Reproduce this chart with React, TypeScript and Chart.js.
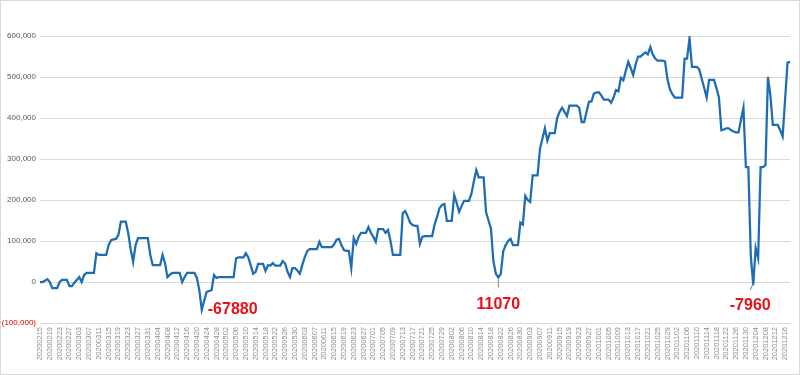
import React, { useEffect, useRef } from "react";
import { Chart, registerables } from "chart.js";

Chart.register(...registerables);

// Category range: daily dates (the source data has no 29 Feb entry)
const START_DATE = "2020-02-15";
const END_DATE = "2020-12-18";
const MISSING_DATES = ["20200229"];

// Cumulative value, in thousands, one per date
const VALUES_K: number[] = [
  0, 0, 3, 7, 0, -15, -15, -15, 0, 5,
  5, 5, -10, -10, -2, 5, 12, 0, 17, 22,
  22, 22, 22, 70, 66, 66, 66, 66, 90, 102,
  104, 105, 115, 147, 147, 147, 119, 80, 49, 90,
  107, 107, 107, 107, 107, 66, 41, 41, 41, 41,
  66, 46, 12, 18, 22, 22, 22, 22, 0, 12,
  22, 22, 22, 22, 10, -20, -67.88, -45, -24, -22,
  -20, 17, 10, 12, 12, 12, 12, 12, 12, 12,
  58, 60, 60, 60, 70, 60, 40, 20, 25, 44,
  44, 44, 27, 41, 40, 46, 40, 40, 40, 51,
  45, 25, 12, 34, 34, 28, 20, 41, 60, 75,
  80, 80, 80, 80, 98, 85, 85, 85, 85, 85,
  92, 103, 105, 90, 78, 76, 76, 34, 107, 93,
  110, 120, 120, 120, 134, 120, 110, 98, 129, 129,
  129, 120, 127, 100, 66, 66, 66, 66, 168, 173,
  160, 145, 139, 137, 137, 93, 110, 112, 112, 112,
  112, 140, 159, 180, 188, 190, 149, 149, 149, 212,
  193, 171, 185, 198, 198, 198, 215, 245, 273, 255,
  255, 255, 170, 150, 130, 50, 20, 11.07, 20, 75,
  90, 100, 105, 90, 90, 90, 145, 140, 210, 200,
  195, 260, 260, 260, 325, 350, 375, 345, 363, 363,
  363, 400, 415, 425, 415, 405, 430, 430, 430, 430,
  425, 390, 390, 415, 440, 440, 460, 462, 463, 455,
  445, 445, 445, 437, 450, 468, 465, 498, 492, 515,
  537, 522, 505, 530, 550, 550, 555, 560, 555, 573,
  555, 545, 540, 540, 540, 538, 495, 470, 458, 450,
  450, 450, 450, 545, 545, 595, 525, 525, 525, 518,
  495, 473, 450, 493, 493, 493, 473, 450, 370, 372,
  375, 375, 370, 367, 365, 365, 395, 425, 280, 280,
  65, -7.96, 83, 58, 280, 280, 285, 500, 455, 383,
  383, 383, 370, 355, 445, 535, 537,
];

// Called-out points: category index and label text
const CALLOUT_INDEX = [66, 187, 291];
const CALLOUT_TEXT = ["-67880", "11070", "-7960"];

// Y axis tick range
const Y_MIN = -100000;
const Y_MAX = 600000;
const Y_STEP = 100000;
const X_LABEL_EVERY = 4;

function buildDates(): string[] {
  const out: string[] = [];
  const d = new Date(START_DATE + "T00:00:00Z");
  const end = new Date(END_DATE + "T00:00:00Z");
  while (d.getTime() <= end.getTime()) {
    const s =
      d.getUTCFullYear().toString() +
      String(d.getUTCMonth() + 1).padStart(2, "0") +
      String(d.getUTCDate()).padStart(2, "0");
    if (!MISSING_DATES.includes(s)) out.push(s);
    d.setUTCDate(d.getUTCDate() + 1);
  }
  return out;
}

const DATES = buildDates();

// styling for callouts (offsets relative to the point)
const CALLOUT_STYLE = [
  { mode: "right", dx: 6, dy: 0 },
  { mode: "below", dx: 0, dy: 19, lineFrom: 2, lineTo: 10 },
  { mode: "below", dx: -3, dy: 12, lineFrom: -2, lineTo: 5 },
];

const calloutPlugin = {
  id: "callouts",
  afterDatasetsDraw(chart: any) {
    const meta = chart.getDatasetMeta(0);
    const ctx = chart.ctx;
    ctx.save();
    ctx.font = "bold 16px 'Liberation Sans', Arial, sans-serif";
    ctx.fillStyle = "#e8101a";
    CALLOUT_INDEX.forEach((idx, i) => {
      const p = meta.data[idx];
      if (!p) return;
      const st: any = CALLOUT_STYLE[i];
      if (st.mode === "right") {
        ctx.textAlign = "left";
        ctx.textBaseline = "middle";
        ctx.fillText(CALLOUT_TEXT[i], p.x + st.dx, p.y + st.dy);
      } else {
        ctx.strokeStyle = "#7f7f7f";
        ctx.lineWidth = 1;
        ctx.beginPath();
        ctx.moveTo(p.x, p.y + st.lineFrom);
        ctx.lineTo(p.x + st.dx, p.y + st.lineTo);
        ctx.stroke();
        ctx.textAlign = "center";
        ctx.textBaseline = "top";
        ctx.fillText(CALLOUT_TEXT[i], p.x + st.dx, p.y + st.dy);
      }
    });
    ctx.restore();
  },
};

function fmt(v: number): string {
  const s = Math.abs(v).toLocaleString("en-US");
  return v < 0 ? `(${s})` : s;
}

export default function App() {
  const ref = useRef<HTMLCanvasElement | null>(null);

  useEffect(() => {
    document.body.style.margin = "0";
    if (!ref.current) return;
    const chart = new Chart(ref.current, {
      type: "line",
      data: {
        labels: DATES,
        datasets: [
          {
            data: VALUES_K.map((v) => v * 1000),
            borderColor: "#1c6db4",
            borderWidth: 2.25,
            pointRadius: 0,
            tension: 0,
            fill: false,
          },
        ],
      },
      options: {
        animation: false,
        responsive: true,
        maintainAspectRatio: false,
        layout: { padding: { top: 35, right: 9, left: 0, bottom: 0 } },
        plugins: {
          legend: { display: false },
          tooltip: { enabled: false },
        },
        scales: {
          x: {
            grid: { display: false, drawTicks: false },
            border: { display: true, color: "#d9d9d9" },
            afterFit: (s: any) => {
              s.height = 51;
            },
            ticks: {
              autoSkip: false,
              minRotation: 90,
              maxRotation: 90,
              padding: 4,
              color: "#8c8c8c",
              font: { family: "'Liberation Sans', Arial, sans-serif", size: 7.5 },
              callback: function (this: any, val: any, i: number) {
                return i % X_LABEL_EVERY === 0 ? DATES[i] : null;
              },
            },
          },
          y: {
            min: Y_MIN,
            max: Y_MAX,
            grid: { color: "#d9d9d9", drawTicks: false },
            border: { display: false },
            afterFit: (s: any) => {
              s.width = 39;
            },
            ticks: {
              stepSize: Y_STEP,
              padding: 4,
              color: (c: any) => (c.tick && c.tick.value < 0 ? "#e00000" : "#595959"),
              font: { family: "'Liberation Sans', Arial, sans-serif", size: 8 },
              callback: (v: any) => fmt(Number(v)),
            },
          },
        },
      },
      plugins: [calloutPlugin],
    });
    return () => chart.destroy();
  }, []);

  return (
    <div
      style={{
        position: "absolute",
        left: 0,
        top: 0,
        width: 800,
        height: 375,
        boxSizing: "border-box",
        border: "1px solid #d9d9d9",
        background: "#fff",
      }}
    >
      <canvas ref={ref} />
    </div>
  );
}
